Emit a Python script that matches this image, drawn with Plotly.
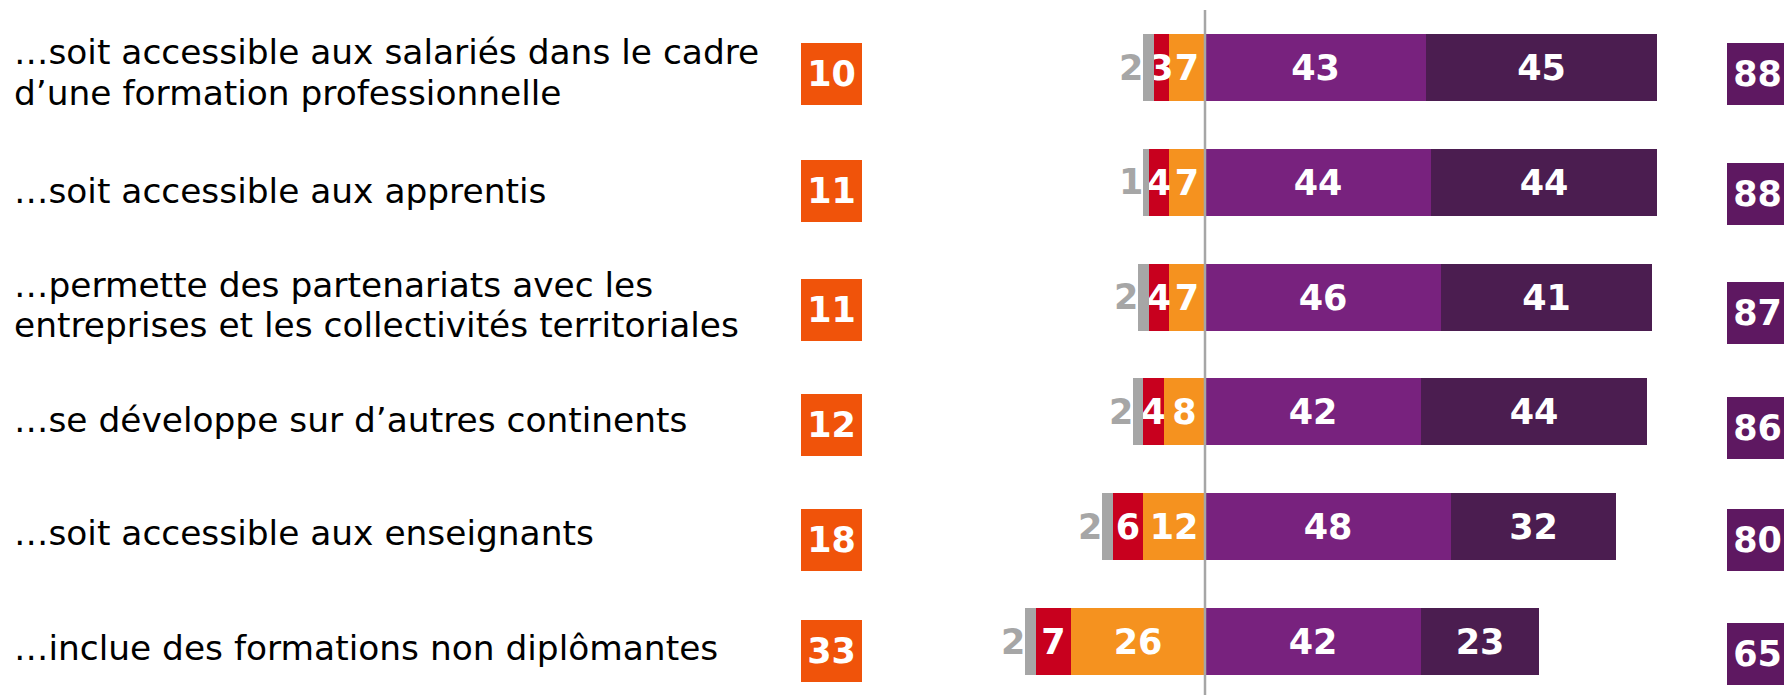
import plotly.graph_objects as go

# ---------------- data ----------------
labels = [
    "…soit accessible aux salariés dans le cadre<br>d’une formation professionnelle",
    "…soit accessible aux apprentis",
    "…permette des partenariats avec les<br>entreprises et les collectivités territoriales",
    "…se développe sur d’autres continents",
    "…soit accessible aux enseignants",
    "…inclue des formations non diplômantes",
]
nsp = [2, 1, 2, 2, 2, 2]                 # grey
pas_du_tout = [3, 4, 4, 4, 6, 7]          # red
plutot_pas = [7, 7, 7, 8, 12, 26]         # orange
plutot = [43, 44, 46, 42, 48, 42]         # purple
tout_a_fait = [45, 44, 41, 44, 32, 23]    # dark purple
total_neg = [10, 11, 11, 12, 18, 33]
total_pos = [88, 88, 87, 86, 80, 65]

# ---------------- style ----------------
W, H = 1784, 695
ZERO_PX = 1205
PX_PER_UNIT = 5.135
ROW0_PX = 67.5
ROW_STEP = 114.8
BAR_W = 67 / ROW_STEP

GREY = "#A6A6A6"
RED = "#C8001E"
ORANGE = "#F5921F"
PURPLE = "#78227E"
DARK = "#4B1D50"
BOX_ORANGE = "#F0530A"
BOX_PURPLE = "#5E1861"
FONT = "DejaVu Sans"
NUM_SIZE = 35
LABEL_SIZE = 34.4
LINE_GAP = 40.5

label_center_down = [5, 8.2, 7.7, 7.7, 6.7, 6.5]
left_box_shift = [-6.5, -8.5, -13, -13, -13, -9.5]
right_box_shift = [-6.5, -11.5, -16, -16, -13, -12]

rows = list(range(len(labels)))

fig = go.Figure()


def bar(vals, color, sign, show_text):
    fig.add_trace(go.Bar(
        y=rows, x=[sign * v for v in vals], orientation="h",
        width=BAR_W, marker=dict(color=color, line=dict(width=0)),
        text=[str(v) for v in vals] if show_text else None,
        textposition="inside" if show_text else "none",
        insidetextanchor="middle", constraintext="none", textangle=0,
        textfont=dict(family=FONT, size=NUM_SIZE, color="white", weight="bold"),
        cliponaxis=False, showlegend=False, hoverinfo="skip",
    ))


bar(plutot_pas, ORANGE, -1, True)
bar(pas_du_tout, RED, -1, True)
bar(nsp, GREY, -1, False)
bar(plutot, PURPLE, 1, True)
bar(tout_a_fait, DARK, 1, True)

# center line
fig.add_shape(type="line", xref="x", yref="paper", x0=0, x1=0,
              y0=0, y1=1 - 10 / H, line=dict(color=GREY, width=2.5), layer="above")

ann = []
for i in rows:
    lines = labels[i].split("<br>")
    n = len(lines)
    for k, line in enumerate(lines):
        down = label_center_down[i] + (k - (n - 1) / 2) * LINE_GAP
        ann.append(dict(
            x=12 / W, xref="paper", xanchor="left", y=i, yref="y", yanchor="middle",
            yshift=-down, text=line, showarrow=False, align="left",
            font=dict(family=FONT, size=LABEL_SIZE, color="black"),
        ))
    # grey "no answer" value, just left of the bar end
    ann.append(dict(
        x=-(nsp[i] + pas_du_tout[i] + plutot_pas[i]), xref="x", xanchor="right",
        y=i, yref="y", yanchor="middle", xshift=1, text=str(nsp[i]),
        showarrow=False, borderpad=0,
        font=dict(family=FONT, size=NUM_SIZE, color=GREY, weight="bold"),
    ))
    ann.append(dict(
        x=831.5 / W, xref="paper", xanchor="center", y=i, yref="y", yanchor="middle",
        yshift=left_box_shift[i], text=str(total_neg[i]), showarrow=False,
        width=61, height=62, bgcolor=BOX_ORANGE, borderpad=0, borderwidth=0,
        font=dict(family=FONT, size=NUM_SIZE, color="white", weight="bold"),
    ))
    ann.append(dict(
        x=1727 / W, xref="paper", xanchor="left", y=i, yref="y", yanchor="middle",
        yshift=right_box_shift[i], text=str(total_pos[i]), showarrow=False,
        width=61, height=62, bgcolor=BOX_PURPLE, borderpad=0, borderwidth=0,
        font=dict(family=FONT, size=NUM_SIZE, color="white", weight="bold"),
    ))

fig.update_layout(
    width=W, height=H, autosize=False,
    margin=dict(l=0, r=0, t=0, b=0, pad=0),
    barmode="relative", bargap=0,
    paper_bgcolor="white", plot_bgcolor="white",
    xaxis=dict(range=[-ZERO_PX / PX_PER_UNIT, (W - ZERO_PX) / PX_PER_UNIT],
               visible=False, fixedrange=True),
    yaxis=dict(range=[(H - ROW0_PX) / ROW_STEP, -ROW0_PX / ROW_STEP],
               visible=False, fixedrange=True),
    annotations=ann,
    showlegend=False,
)

fig.write_html("out.html", config={"displayModeBar": False},
               post_script="document.body.style.margin='0';document.body.style.overflow='hidden';")
